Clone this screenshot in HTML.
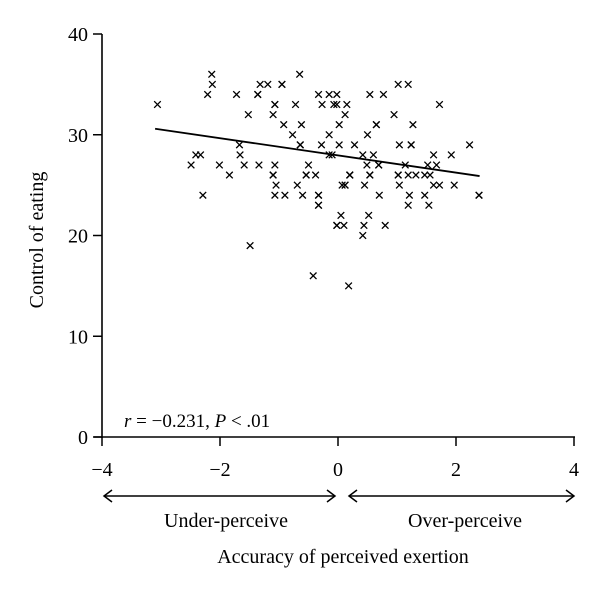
<!DOCTYPE html>
<html><head><meta charset="utf-8"><style>
html,body{margin:0;padding:0;background:#fff;}
svg{display:block;font-family:"Liberation Serif",serif;}
</style></head><body>
<svg id="chart" width="600" height="589" viewBox="0 0 600 589" xmlns="http://www.w3.org/2000/svg">
<g id="axes"></g>
<g id="pts"></g>
<text x="124" y="427" font-size="19"><tspan font-style="italic">r</tspan> = −0.231, <tspan font-style="italic">P</tspan> &lt; .01</text>
<text x="0" y="0" font-size="20" text-anchor="middle" transform="translate(43,240) rotate(-90)">Control of eating</text>
<text x="226" y="527" font-size="20" text-anchor="middle">Under-perceive</text>
<text x="465" y="527" font-size="20" text-anchor="middle">Over-perceive</text>
<text x="343" y="563" font-size="20" text-anchor="middle">Accuracy of perceived exertion</text>
<g stroke="#000" stroke-width="1.5" fill="none">
<line x1="104" y1="496" x2="335" y2="496"/><polyline points="112,490 104,496 112,502"/><polyline points="327,490 335,496 327,502"/>
</g>
<g stroke="#000" stroke-width="1.5" fill="none">
<line x1="349" y1="496" x2="574" y2="496"/><polyline points="357,490 349,496 357,502"/><polyline points="566,490 574,496 566,502"/>
</g>
</svg>
<script>
const xTicks = [-4, -2, 0, 2, 4];
const yTicks = [0, 10, 20, 30, 40];
const xTickLabels = ["−4", "−2", "0", "2", "4"];
const yTickLabels = ["0", "10", "20", "30", "40"];
const pointsX = [
-2.14,-0.65,
-2.13,-1.32,-1.19,-0.95,-0.95,1.02,1.19,
-2.21,-1.72,-1.36,-1.36,-0.33,-0.15,-0.02,0.54,0.77,
-3.06,-1.07,-1.07,-0.72,-0.27,-0.07,-0.02,0.15,1.72,
-1.52,-1.10,0.12,0.95,
-0.92,-0.62,0.02,0.65,0.65,1.27,
-0.77,-0.15,0.50,
-1.67,-0.64,-0.64,-0.28,0.02,0.28,1.04,1.24,1.24,2.23,
-2.41,-2.33,-1.66,-0.15,-0.10,0.42,0.60,1.62,1.92,
-2.49,-2.01,-1.59,-1.34,-1.07,-0.50,0.49,0.69,0.69,1.14,1.52,1.67,
-1.84,-1.10,-1.10,-0.54,-0.54,-0.38,0.20,0.20,0.20,0.54,0.54,1.02,1.02,1.19,1.32,1.47,1.56,
-1.05,-0.69,0.07,0.12,0.12,0.45,1.04,1.62,1.72,1.97,
-2.29,-1.07,-0.90,-0.60,-0.33,-0.33,0.70,1.21,1.47,2.39,2.39,
-0.33,-0.33,1.19,1.54,
0.05,0.52,
-0.02,-0.02,0.10,0.44,0.80,
0.42,
-1.49,
-0.42,
0.18
];
const pointsY = [
36,36,
35,35,35,35,35,35,35,
34,34,34,34,34,34,34,34,34,
33,33,33,33,33,33,33,33,33,
32,32,32,32,
31,31,31,31,31,31,
30,30,30,
29,29,29,29,29,29,29,29,29,29,
28,28,28,28,28,28,28,28,28,
27,27,27,27,27,27,27,27,27,27,27,27,
26,26,26,26,26,26,26,26,26,26,26,26,26,26,26,26,26,
25,25,25,25,25,25,25,25,25,25,
24,24,24,24,24,24,24,24,24,24,24,
23,23,23,23,
22,22,
21,21,21,21,21,
20,
19,
16,
15
];
const fitX = [-3.1, 2.4];
const fitY = [30.6, 25.9];

const NS = "http://www.w3.org/2000/svg";
function sx(v){ return 338 + (v + 0) * 59; }
function sy(v){ return 437 - v * 10.075; }
function mk(tag, attrs, parent){
  const e = document.createElementNS(NS, tag);
  for (const k in attrs) e.setAttribute(k, attrs[k]);
  parent.appendChild(e);
  return e;
}
const axes = document.getElementById("axes");
const yAxis = mk("line", {x1:102, y1:sy(40), x2:102, y2:sy(0)+1, stroke:"#000", "stroke-width":1.6}, axes);


const xAxis = mk("line", {x1:94, y1:sy(0), x2:sx(4)+1, y2:sy(0), stroke:"#000", "stroke-width":1.6}, axes);


yTicks.forEach((t, i) => {
  const y = sy(t);
  const tk = mk("line", {x1:93, y1:y, x2:102, y2:y, stroke:"#000", "stroke-width":1.5}, axes);
  
  
  const lb = mk("text", {x:88, y:y+7, "font-size":20, "text-anchor":"end"}, axes);
  lb.textContent = yTickLabels[i];
  
  
});
xTicks.forEach((t, i) => {
  const x = sx(t);
  const tk = mk("line", {x1:x, y1:sy(0), x2:x, y2:sy(0)+9, stroke:"#000", "stroke-width":1.5}, axes);
  
  
  const lb = mk("text", {x:x, y:476, "font-size":20, "text-anchor":"middle"}, axes);
  lb.textContent = xTickLabels[i];
  
  
});
const pts = document.getElementById("pts");
for (let i = 0; i < pointsX.length; i++) {
  const x = sx(pointsX[i]), y = sy(pointsY[i]), r = 3.3;
  const p = mk("path", {d:`M${x-r},${y-r}L${x+r},${y+r}M${x-r},${y+r}L${x+r},${y-r}`, stroke:"#000", "stroke-width":1.3, fill:"none"}, pts);
  
  
}
const fit = mk("line", {x1:sx(fitX[0]), y1:sy(fitY[0]), x2:sx(fitX[1]), y2:sy(fitY[1]), stroke:"#000", "stroke-width":1.8}, pts);


</script>
</body></html>
